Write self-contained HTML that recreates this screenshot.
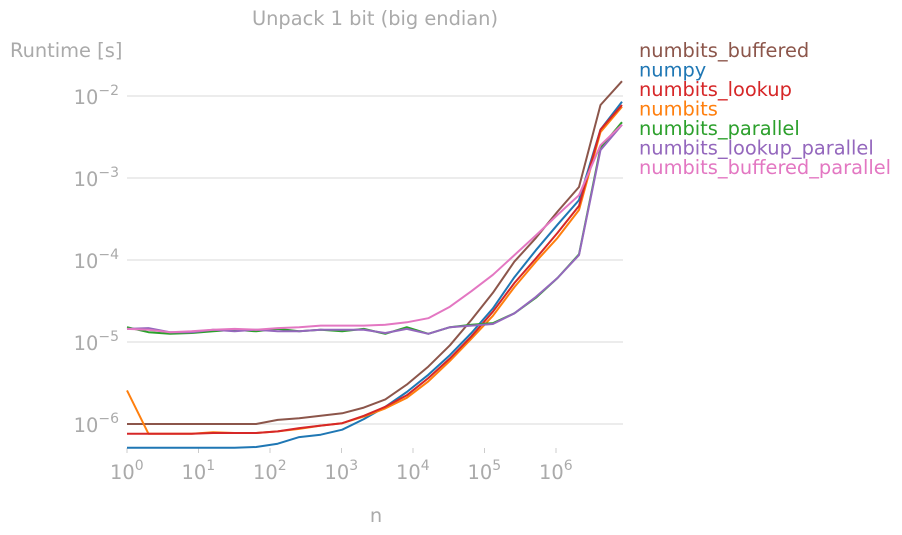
<!DOCTYPE html>
<html><head><meta charset="utf-8"><style>
body{margin:0;background:#fff;}
svg{display:block;font-family:"DejaVu Sans","Liberation Sans",sans-serif;}
</style></head><body>
<svg id="chart" width="902" height="535">
<text x="375" y="25" text-anchor="middle" font-size="19.4" fill="#aaaaaa">Unpack 1 bit (big endian)</text>
<text x="10" y="57" font-size="19.4" fill="#aaaaaa">Runtime [s]</text>
<text x="376" y="522" text-anchor="middle" font-size="19.4" fill="#aaaaaa">n</text>
<g id="grid"></g><g id="xticks"></g><g id="yticks"></g><g id="lines"></g><g id="legend"></g>
</svg>
<script>
const seriesNames=["numbits_buffered","numpy","numbits_lookup","numbits","numbits_parallel","numbits_lookup_parallel","numbits_buffered_parallel"];
const seriesColors=["#8c564b","#1f77b4","#d62728","#ff7f0e","#2ca02c","#9467bd","#e377c2"];
const exponents=[0,1,2,3,4,5,6,7,8,9,10,11,12,13,14,15,16,17,18,19,20,21,22,23]; // n = 2^i
const logBuffered=[-6.00,-6.00,-6.00,-6.00,-6.00,-6.00,-6.00,-5.95,-5.93,-5.90,-5.87,-5.80,-5.70,-5.52,-5.30,-5.04,-4.73,-4.40,-4.02,-3.73,-3.41,-3.11,-2.11,-1.82];
const logNumpy=[-6.29,-6.29,-6.29,-6.29,-6.29,-6.29,-6.28,-6.24,-6.16,-6.13,-6.07,-5.94,-5.79,-5.61,-5.40,-5.16,-4.89,-4.59,-4.21,-3.88,-3.57,-3.27,-2.41,-2.07];
const logLookup=[-6.12,-6.12,-6.12,-6.12,-6.11,-6.11,-6.11,-6.09,-6.05,-6.02,-5.99,-5.90,-5.79,-5.65,-5.44,-5.20,-4.93,-4.63,-4.28,-3.98,-3.67,-3.34,-2.41,-2.11];
const logNumbits=[-5.59,-6.12,-6.12,-6.12,-6.10,-6.11,-6.11,-6.09,-6.06,-6.02,-5.99,-5.91,-5.81,-5.68,-5.48,-5.23,-4.96,-4.68,-4.33,-4.02,-3.73,-3.39,-2.44,-2.13];
const logParallel=[-4.82,-4.88,-4.90,-4.89,-4.87,-4.85,-4.87,-4.84,-4.87,-4.85,-4.87,-4.84,-4.90,-4.82,-4.90,-4.82,-4.79,-4.77,-4.65,-4.46,-4.22,-3.93,-2.63,-2.32];
const logLookupParallel=[-4.84,-4.83,-4.88,-4.88,-4.85,-4.87,-4.85,-4.87,-4.87,-4.85,-4.85,-4.85,-4.89,-4.84,-4.90,-4.82,-4.80,-4.78,-4.65,-4.45,-4.22,-3.94,-2.66,-2.35];
const logBufferedParallel=[-4.84,-4.85,-4.88,-4.87,-4.85,-4.84,-4.85,-4.83,-4.82,-4.80,-4.80,-4.80,-4.79,-4.76,-4.71,-4.57,-4.38,-4.18,-3.94,-3.70,-3.45,-3.21,-2.60,-2.35];
const xTickDecades=[0,1,2,3,4,5,6];
const yTickDecades=[-2,-3,-4,-5,-6];
const allSeries=[logBuffered,logNumpy,logLookup,logNumbits,logParallel,logLookupParallel,logBufferedParallel];
const drawOrder=[0,1,3,2,4,5,6];

const NS="http://www.w3.org/2000/svg";
function xPos(log10n){return 127+log10n*71.5;}
function yPos(log10t){return 96+(-2-log10t)*82;}
function mk(tag,attrs,parent){const e=document.createElementNS(NS,tag);for(const k in attrs)e.setAttribute(k,attrs[k]);parent.appendChild(e);return e;}
const grid=document.getElementById('grid'),xt=document.getElementById('xticks'),yt=document.getElementById('yticks'),lines=document.getElementById('lines'),leg=document.getElementById('legend');

yTickDecades.forEach(d=>{
  const y=yPos(d);
  const g=mk('line',{x1:127,x2:623,y1:y,y2:y,stroke:'#e6e6e6','stroke-width':1.5},grid);
  
  
  const t=mk('text',{x:119,y:y+8,'font-size':19.4,fill:'#aaaaaa','text-anchor':'end'},yt);
  
  
  t.innerHTML='10<tspan dy="-9" font-size="14">'+(d<0?'\u2212'+(-d):d)+'</tspan>';
});
xTickDecades.forEach(d=>{
  const x=xPos(d);
  const m=mk('line',{x1:x,x2:x,y1:448,y2:453,stroke:'#cccccc','stroke-width':1},xt);
  
  
  const t=mk('text',{x:x-17,y:479,'font-size':19.4,fill:'#aaaaaa'},xt);
  
  
  t.innerHTML='10<tspan dy="-9" font-size="14">'+d+'</tspan>';
});
drawOrder.forEach(si=>{
  const vals=allSeries[si];
  const pts=vals.map((v,i)=>xPos(exponents[i]*Math.LOG10E*Math.LN2).toFixed(1)+','+yPos(v).toFixed(1)).join(' ');
  const p=mk('polyline',{points:pts,fill:'none',stroke:seriesColors[si],'stroke-width':2,'stroke-linejoin':'round'},lines);
  
  
});
seriesNames.forEach((name,si)=>{
  const t=mk('text',{x:639,y:57+si*19.5,'font-size':19.4,fill:seriesColors[si]},leg);
  t.textContent=name;
  
  
});
</script>
</body></html>
